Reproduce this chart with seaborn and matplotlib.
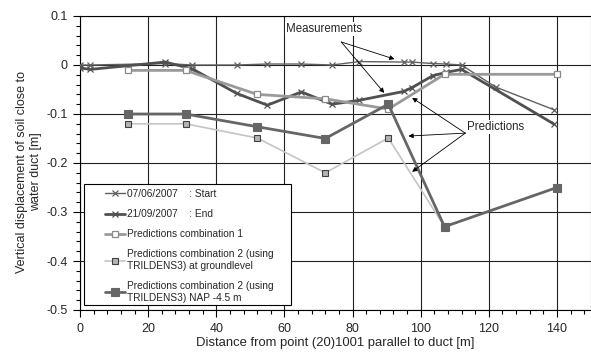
import numpy as np
import pandas as pd
import seaborn as sns
import matplotlib.pyplot as plt
from matplotlib.patches import Rectangle
from matplotlib.ticker import MultipleLocator, FuncFormatter

# measured settlement, start and end of monitoring
start_x = [0, 3, 25, 33, 46, 55, 65, 74, 82, 95, 97.5, 103.5, 107.5, 112, 122, 139]
start_y = [0.0, 0.0, 0.003, 0.0, 0.0, 0.002, 0.002, 0.0, 0.007, 0.006, 0.006, 0.003, 0.002, 0.0, -0.045, -0.091]
end_x = [0, 3, 25, 33, 46, 55, 65, 74, 82, 95, 97.5, 103.5, 107.5, 112, 139]
end_y = [-0.006, -0.009, 0.006, -0.008, -0.058, -0.082, -0.055, -0.08, -0.072, -0.054, -0.046, -0.022, -0.015, -0.009, -0.12]

# predictions
pred_x = [14, 31, 52, 72, 90.5, 107, 140]
pred1_y = [-0.011, -0.011, -0.06, -0.069, -0.09, -0.019, -0.019]
pred2g_x = [14, 31, 52, 72, 90.5, 107]
pred2g_y = [-0.12, -0.12, -0.149, -0.22, -0.149, -0.33]
pred2n_y = [-0.10, -0.10, -0.126, -0.15, -0.08, -0.33, -0.25]

labels = ["07/06/2007    : Start", "21/09/2007    : End", "Predictions combination 1",
          "Predictions combination 2 (using\nTRILDENS3) at groundlevel",
          "Predictions combination 2 (using\nTRILDENS3) NAP -4.5 m"]

sns.set_style("white")
plt.rcParams['font.family'] = ['Liberation Sans', 'DejaVu Sans']
plt.rcParams['axes.unicode_minus'] = False

fig = plt.figure(figsize=(5.91, 3.52), dpi=100)
ax = fig.add_axes([80 / 591, 1 - 310 / 352, 511 / 591, 294 / 352])

sns.lineplot(x=start_x, y=start_y, ax=ax, sort=False, estimator=None, color="#606060", lw=1.0,
             marker="x", ms=5, mew=0.9, mec="#606060", label=labels[0], zorder=3)
sns.lineplot(x=end_x, y=end_y, ax=ax, sort=False, estimator=None, color="#505050", lw=2.0,
             marker="x", ms=5, mew=0.9, mec="#505050", label=labels[1], zorder=3)
sns.lineplot(x=pred_x, y=pred1_y, ax=ax, sort=False, estimator=None, color="#9a9a9a", lw=2.0,
             marker="s", ms=5, mew=0.9, mfc="white", mec="#8a8a8a", label=labels[2], zorder=3)
sns.lineplot(x=pred2g_x, y=pred2g_y, ax=ax, sort=False, estimator=None, color="#c4c4c4", lw=1.2,
             marker="s", ms=5, mew=0.8, mfc="#b4b4b4", mec="#404040", label=labels[3], zorder=3)
sns.lineplot(x=pred_x, y=pred2n_y, ax=ax, sort=False, estimator=None, color="#666666", lw=2.0,
             marker="s", ms=6, mew=0.8, mfc="#666666", mec="#666666", label=labels[4], zorder=3)

ax.set_xlim(0, 150)
ax.set_ylim(-0.5, 0.1)
ax.xaxis.set_major_locator(MultipleLocator(20))
ax.xaxis.set_minor_locator(MultipleLocator(4))
ax.yaxis.set_major_locator(MultipleLocator(0.1))
ax.yaxis.set_minor_locator(MultipleLocator(0.02))
ax.yaxis.set_major_formatter(FuncFormatter(lambda v, p: f"{round(v, 2):g}" if abs(v) > 1e-9 else "0"))
ax.grid(True, which="major", color="#222222", lw=0.8)
ax.set_axisbelow(True)
ax.tick_params(which="major", direction="out", length=5, width=0.8, color="black", labelsize=9, pad=4,
               bottom=True, left=True)
ax.tick_params(which="minor", direction="out", length=3, width=0.8, color="black", bottom=True, left=True)
for s in ax.spines.values():
    s.set_color("black")
    s.set_linewidth(0.8)

ax.set_xlabel("Distance from point (20)1001 parallel to duct [m]", fontsize=9.4, labelpad=2)
ax.set_ylabel("Vertical displacement of soil close to\nwater duct [m]", fontsize=9)
ax.yaxis.set_label_coords(-0.074, 0.471)

# annotations
ax.text(60.6, 0.0735, "Measurements", fontsize=8.3, va="center", ha="left", zorder=6,
        bbox=dict(facecolor="white", edgecolor="none", pad=1))
ap = dict(arrowstyle="-|>", color="black", lw=0.6, mutation_scale=7, shrinkA=0, shrinkB=0)
for tx, ty in [(92.3, 0.012), (89.3, -0.057)]:
    ax.annotate("", xy=(tx, ty), xytext=(76.7, 0.047), arrowprops=ap, zorder=6)
ax.text(113.6, -0.1265, "Predictions", fontsize=8.3, va="center", ha="left", zorder=6,
        bbox=dict(facecolor="white", edgecolor="none", pad=1))
for tx, ty in [(97.5, -0.067), (96.4, -0.145), (97.5, -0.218)]:
    ax.annotate("", xy=(tx, ty), xytext=(113.1, -0.139), arrowprops=ap, zorder=6)

# legend box
ax.add_patch(Rectangle((4 / 511, 5 / 294), 207 / 511, 121 / 294, transform=ax.transAxes,
                       facecolor="white", edgecolor="black", lw=0.8, zorder=4))
leg = ax.legend(loc="upper left", bbox_to_anchor=(25 / 511, 121 / 294), frameon=False, fontsize=7.3,
                handlelength=2.0, handletextpad=0.2, labelspacing=1.0, borderpad=0, borderaxespad=0)
leg.set_zorder(5)

fig.savefig("out.png", dpi=100)
